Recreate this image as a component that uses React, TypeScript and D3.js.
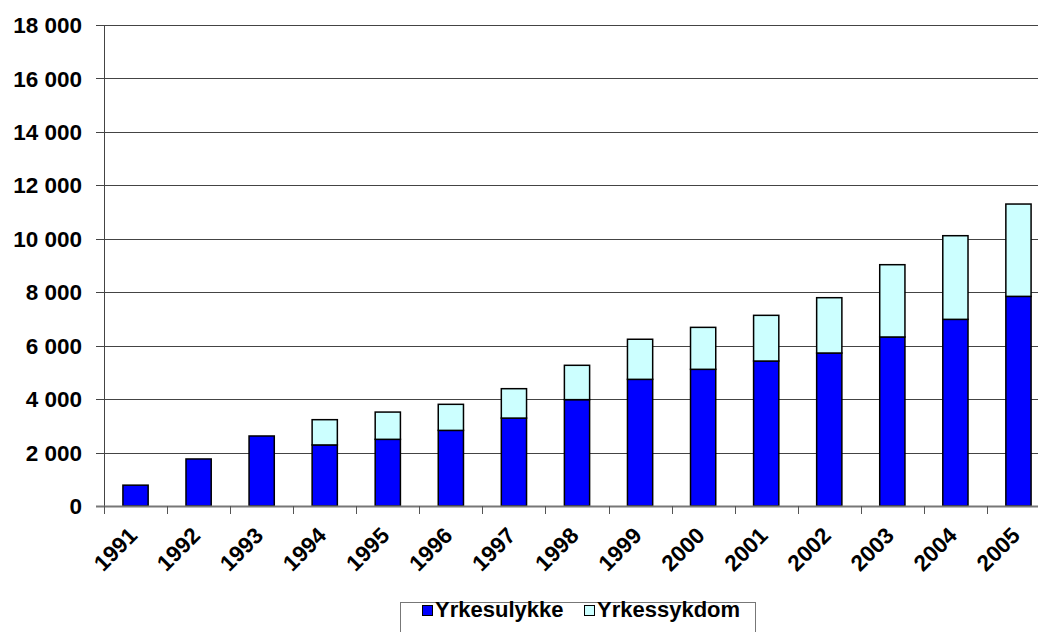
import React from "react";
import * as d3 from "d3";

const years = ["1991","1992","1993","1994","1995","1996","1997","1998","1999","2000","2001","2002","2003","2004","2005"];
const yrkesulykke = [780, 1760, 2620, 2285, 2495, 2830, 3290, 3980, 4740, 5115, 5425, 5725, 6325, 6985, 7845];
const yrkessykdom = [0, 0, 0, 945, 1020, 975, 1100, 1285, 1500, 1570, 1710, 2070, 2705, 3130, 3455];
const yTicks = [0, 2000, 4000, 6000, 8000, 10000, 12000, 14000, 16000, 18000];
const seriesNames = ["Yrkesulykke", "Yrkessykdom"];
const colors = ["#0000FF", "#CCFFFF"];

const W = 1038, H = 632;
const left = 104, right = 1050, top = 25, bottom = 506;
const font = "'Liberation Sans', Arial, sans-serif";

export default function App() {
  const x = d3.scaleBand().domain(years).range([left, right]).paddingInner(0.6).paddingOuter(0.3);
  const xOuter = d3.scaleBand().domain(years).range([left, right]);
  const y = d3.scaleLinear().domain([0, 18000]).range([bottom, top]);
  const fmt = (v: number) => d3.format(",")(v).replace(/,/g, " ");
  const rows = years.map((yr, i) => ({ year: yr, a: yrkesulykke[i], b: yrkessykdom[i] }));
  const stack = d3.stack<any>().keys(["a", "b"])(rows);

  return (
    <svg width={W} height={H} style={{ position: "absolute", left: 0, top: 0, background: "#fff" }} fontFamily={font}>
      {yTicks.filter(t => t > 0).map(t => (
        <line key={t} x1={left} x2={right} y1={Math.round(y(t)) + 0.5} y2={Math.round(y(t)) + 0.5} stroke="#444" strokeWidth={1} />
      ))}
      {yTicks.map(t => (
        <g key={"yt" + t}>
          <line x1={left - 8} x2={left} y1={Math.round(y(t)) + 0.5} y2={Math.round(y(t)) + 0.5} stroke="#444" />
          <text x={82} y={y(t)} dy="0.36em" textAnchor="end" fontSize={22.5} fontWeight="bold" fill="#000">{fmt(t)}</text>
        </g>
      ))}
      {stack.map((s, si) => (
        <g key={si}>
          {s.map((d, i) => d[1] - d[0] > 0 ? (
            <rect key={i} x={x(years[i])!} width={x.bandwidth()} y={y(d[1])} height={y(d[0]) - y(d[1])}
              fill={colors[si]} stroke="#000" strokeWidth={1.5} />
          ) : null)}
        </g>
      ))}
      <line x1={left + 0.5} x2={left + 0.5} y1={top} y2={bottom} stroke="#444" strokeWidth={1} />
      <line x1={left - 8} x2={right} y1={bottom + 0.5} y2={bottom + 0.5} stroke="#777" strokeWidth={2} />
      {years.map((yr, i) => (
        <line key={"xt" + yr} x1={Math.round(xOuter(yr)!) + 0.5} x2={Math.round(xOuter(yr)!) + 0.5} y1={bottom} y2={bottom + 8} stroke="#555" />
      ))}
      {years.map(yr => {
        const cx = xOuter(yr)! + xOuter.bandwidth() / 2 + 3;
        const cy = bottom + 31;
        return (
          <text key={"xl" + yr} x={cx} y={cy} textAnchor="end" fontSize={22.5} fontWeight="bold"
            transform={`rotate(-45 ${cx} ${cy})`}>{yr}</text>
        );
      })}
      <rect x={400.5} y={602.5} width={355} height={40} fill="#fff" stroke="#777" strokeWidth={1} />
      {seriesNames.map((n, i) => {
        const lx = [422, 584][i];
        return (
          <g key={n}>
            <rect x={lx + 0.5} y={605.5} width={10} height={10} fill={colors[i]} stroke="#000" strokeWidth={1} />
            <text x={lx + 13} y={617} fontSize={22} fontWeight="bold">{n}</text>
          </g>
        );
      })}
    </svg>
  );
}
